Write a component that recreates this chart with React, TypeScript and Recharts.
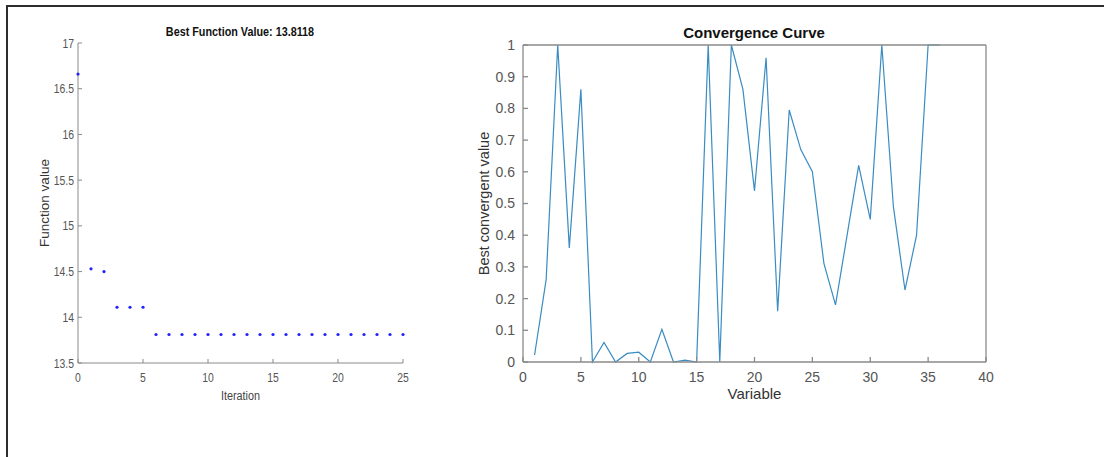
import { ScatterChart, Scatter, LineChart, Line, XAxis, YAxis, Label } from 'recharts'

// left panel: best value per iteration
const iterations = [0, 1, 2, 3, 4, 5, 6, 7, 8, 9, 10, 11, 12, 13, 14, 15, 16, 17, 18, 19, 20, 21, 22, 23, 24, 25]
const bestValues = [
  16.66, 14.53, 14.5, 14.11, 14.11, 14.11, 13.8118, 13.8118, 13.8118, 13.8118, 13.8118, 13.8118, 13.8118,
  13.8118, 13.8118, 13.8118, 13.8118, 13.8118, 13.8118, 13.8118, 13.8118, 13.8118, 13.8118, 13.8118, 13.8118, 13.8118,
]
const iterTicks = [0, 5, 10, 15, 20, 25]
const valueTicks = [13.5, 14, 14.5, 15, 15.5, 16, 16.5, 17]

// right panel: convergence curve per variable
const variables = [
  1, 2, 3, 4, 5, 6, 7, 8, 9, 10, 11, 12, 13, 14, 15, 16, 17, 18, 19, 20, 21, 22, 23, 24, 25, 26, 27, 28, 29, 30, 31, 32, 33, 34, 35, 36,
]
const convergentValues = [
  0.022, 0.26, 1.0, 0.36, 0.86, 0.0, 0.062, 0.0, 0.027, 0.031, 0.0, 0.103, 0.0, 0.006, 0.0, 1.0, 0.0, 1.0,
  0.86, 0.54, 0.96, 0.16, 0.795, 0.67, 0.6, 0.31, 0.18, 0.4, 0.62, 0.45, 1.0, 0.49, 0.227, 0.4, 1.0, 1.0,
]
const variableTicks = [0, 5, 10, 15, 20, 25, 30, 35, 40]
const convTicks = [0, 0.1, 0.2, 0.3, 0.4, 0.5, 0.6, 0.7, 0.8, 0.9, 1]

const bestData = iterations.map((it, i) => ({ iter: it, value: bestValues[i] }))
const convData = variables.map((v, i) => ({ variable: v, value: convergentValues[i] }))

const regular = '"Liberation Sans", Arial, Helvetica, sans-serif'
const axisGray = '#8a8a8a'
const squeeze = 0.8 // left panel text looks horizontally condensed

// condensed tick labels for the left panel
const NarrowXTick = (props: any) => {
  const { x, y, payload } = props
  return (
    <text
      transform={`translate(${x},${y}) scale(${squeeze},1)`}
      textAnchor="middle"
      dy="0.71em"
      fontSize={13}
      fontFamily={regular}
      fill="#555"
    >
      {payload.value}
    </text>
  )
}

const NarrowYTick = (props: any) => {
  const { x, y, payload } = props
  return (
    <text
      transform={`translate(${x},${y}) scale(${squeeze},1)`}
      textAnchor="end"
      dy="0.355em"
      fontSize={13}
      fontFamily={regular}
      fill="#555"
    >
      {payload.value}
    </text>
  )
}

export default function App() {
  return (
    <div style={{ position: 'absolute', left: 0, top: 0, width: 1104, height: 457, background: '#fff', overflow: 'hidden' }}>
      {/* figure frame */}
      <div
        style={{
          position: 'absolute',
          left: 6,
          top: 5,
          width: 1104,
          height: 460,
          borderTop: '2px solid #2e2e2e',
          borderLeft: '2px solid #2e2e2e',
        }}
      />

      <div
        style={{
          position: 'absolute',
          left: 140,
          top: 24,
          width: 200,
          textAlign: 'center',
          fontFamily: regular,
          fontWeight: 'bold',
          fontSize: 13.5,
          color: '#111',
          transform: `scaleX(${squeeze})`,
        }}
      >
        Best Function Value: 13.8118
      </div>

      <div style={{ position: 'absolute', left: 0, top: 0 }}>
        <ScatterChart width={440} height={420} margin={{ top: 43, right: 37, bottom: 0, left: 0 }}>
          <XAxis
            dataKey="iter"
            type="number"
            domain={[0, 25]}
            ticks={iterTicks}
            height={57}
            stroke={axisGray}
            tickSize={-4}
            tickMargin={14}
            tick={<NarrowXTick />}
          >
            <Label
              position="insideBottom"
              offset={20}
              content={(p: any) => {
                const vb = p.viewBox
                const cx = vb.x + vb.width / 2
                return (
                  <text
                    transform={`translate(${cx},${vb.y + vb.height - 20}) scale(${squeeze},1)`}
                    textAnchor="middle"
                    fontSize={13.5}
                    fontFamily={regular}
                    fill="#444"
                  >
                    Iteration
                  </text>
                )
              }}
            />
          </XAxis>
          <YAxis
            dataKey="value"
            type="number"
            domain={[13.5, 17]}
            ticks={valueTicks}
            width={78}
            stroke={axisGray}
            tickSize={-4}
            tickMargin={8}
            tick={<NarrowYTick />}
          >
            <Label
              value="Function value"
              angle={-90}
              position="insideLeft"
              offset={44}
              style={{ textAnchor: 'middle', fontSize: 13.5, fontFamily: regular, fill: '#333' }}
            />
          </YAxis>
          <Scatter
            data={bestData}
            isAnimationActive={false}
            shape={(p: any) => <circle cx={p.cx} cy={p.cy} r={1.6} fill="#2222ff" />}
          />
        </ScatterChart>
      </div>

      <div
        style={{
          position: 'absolute',
          left: 604,
          top: 24,
          width: 300,
          textAlign: 'center',
          fontFamily: regular,
          fontWeight: 'bold',
          fontSize: 15,
          color: '#111',
        }}
      >
        Convergence Curve
      </div>

      <div style={{ position: 'absolute', left: 460, top: 0 }}>
        <LineChart width={560} height={420} data={convData} margin={{ top: 44, right: 33, bottom: 0, left: 0 }}>
          <XAxis
            dataKey="variable"
            type="number"
            domain={[0, 40]}
            ticks={variableTicks}
            height={58}
            stroke={axisGray}
            strokeWidth={1.3}
            tickSize={-5}
            tickMargin={15}
            tick={{ fontSize: 14, fontFamily: regular, fill: '#555' }}
          >
            <Label value="Variable" position="insideBottom" offset={21} style={{ fontSize: 15, fontFamily: regular, fill: '#333' }} />
          </XAxis>
          <XAxis
            xAxisId="top"
            orientation="top"
            type="number"
            domain={[0, 40]}
            allowDataOverflow
            ticks={variableTicks}
            height={1}
            stroke={axisGray}
            strokeWidth={1.3}
            tickSize={-5}
            tick={false}
          />
          <YAxis
            type="number"
            domain={[0, 1]}
            ticks={convTicks}
            width={63}
            stroke={axisGray}
            strokeWidth={1.3}
            tickSize={-5}
            tickMargin={13}
            tick={{ fontSize: 14, fontFamily: regular, fill: '#555' }}
          >
            <Label
              value="Best convergent value"
              angle={-90}
              position="insideLeft"
              offset={24}
              style={{ textAnchor: 'middle', fontSize: 14.5, fontFamily: regular, fill: '#333' }}
            />
          </YAxis>
          <YAxis
            yAxisId="right"
            orientation="right"
            type="number"
            domain={[0, 1]}
            allowDataOverflow
            ticks={convTicks}
            width={1}
            stroke={axisGray}
            strokeWidth={1.3}
            tickSize={-5}
            tick={false}
          />
          <Line
            type="linear"
            dataKey="value"
            stroke="#3a8cc2"
            strokeWidth={1.2}
            dot={false}
            isAnimationActive={false}
          />
        </LineChart>
      </div>
    </div>
  )
}
